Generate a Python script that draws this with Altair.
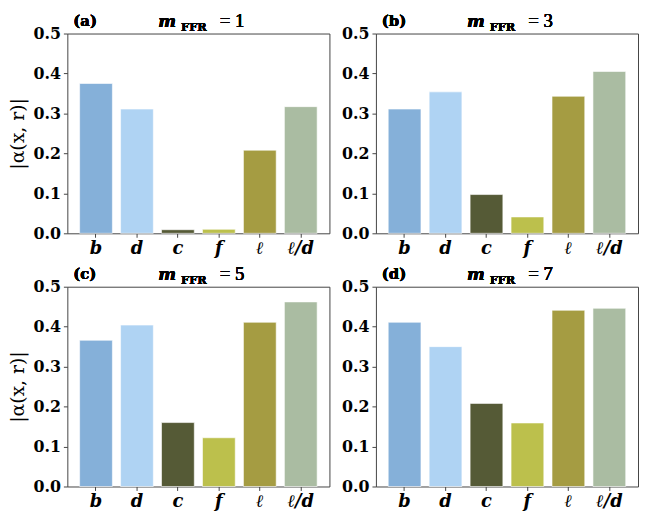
import altair as alt
import pandas as pd

categories = ["b", "d", "c", "f", "ℓ", "ℓ/d"]
colors = ["#85b0d9", "#afd3f3", "#555a36", "#bcc04c", "#a59c42", "#aabca2"]
panel_tags = ["(a)", "(b)", "(c)", "(d)"]
m_values = ["1", "3", "5", "7"]
vals_a = [0.375, 0.311, 0.009, 0.010, 0.208, 0.317]
vals_b = [0.311, 0.354, 0.097, 0.041, 0.343, 0.405]
vals_c = [0.366, 0.404, 0.160, 0.122, 0.411, 0.462]
vals_d = [0.411, 0.350, 0.208, 0.159, 0.441, 0.446]
all_vals = [vals_a, vals_b, vals_c, vals_d]
y_ticks = [0.0, 0.1, 0.2, 0.3, 0.4, 0.5]

SERIF = "DejaVu Serif"
SERIF2 = "Liberation Serif"
W, H = 265, 202


def panel(i, show_ytitle):
    df = pd.DataFrame({"cat": categories, "val": all_vals[i]})
    bars = alt.Chart(df).mark_bar(stroke="white", strokeWidth=0.6).encode(
        x=alt.X("cat:N", sort=categories,
                scale=alt.Scale(paddingInner=0.2, paddingOuter=0.3),
                axis=alt.Axis(title=None, labelAngle=0, labelFont=SERIF,
                              labelFontSize=18, labelFontWeight="bold",
                              labelFontStyle="italic", labelColor="black",
                              tickColor="#444", tickSize=4, domain=False,
                              labelPadding=2)),
        y=alt.Y("val:Q", scale=alt.Scale(domain=[0, 0.5], nice=False),
                axis=alt.Axis(values=y_ticks, format=".1f", grid=False,
                              title="|α(x, r)|" if show_ytitle else None,
                              titleFont=SERIF, titleFontSize=19,
                              titleFontWeight="normal", titleColor="black",
                              titlePadding=5,
                              labelFont=SERIF, labelFontSize=16,
                              labelFontWeight="bold", labelColor="black",
                              tickColor="#444", tickSize=4, domain=False,
                              labelPadding=3)),
        color=alt.Color("cat:N", sort=categories,
                        scale=alt.Scale(domain=categories, range=colors),
                        legend=None),
    )
    tag = alt.Chart(df).mark_text(font=SERIF, fontSize=15, fontWeight="bold",
                                  align="left", baseline="alphabetic",
                                  color="black").encode(
        x=alt.value(6), y=alt.value(-8), text=alt.value(panel_tags[i]))
    m = alt.Chart(df).mark_text(font=SERIF, fontSize=17, fontStyle="italic",
                                fontWeight="bold",
                                align="left", baseline="alphabetic",
                                color="black").encode(
        x=alt.value(92), y=alt.value(-7), text=alt.value("m"))
    sub = alt.Chart(df).mark_text(font=SERIF, fontSize=11.5, fontWeight="bold",
                                  align="left", baseline="alphabetic",
                                  color="black").encode(
        x=alt.value(115), y=alt.value(-3), text=alt.value("FFR"))
    eq = alt.Chart(df).mark_text(font=SERIF2, fontSize=19, fontWeight="normal",
                                 align="left", baseline="alphabetic",
                                 color="black").encode(
        x=alt.value(154), y=alt.value(-7), text=alt.value("= " + m_values[i]))
    return alt.layer(bars, tag, m, sub, eq).properties(width=W, height=H)


top = alt.hconcat(panel(0, True), panel(1, False), spacing=10)
bottom = alt.hconcat(panel(2, True), panel(3, False), spacing=10)
chart = alt.vconcat(top, bottom, spacing=6).properties(
    background="white",
    padding={"left": 0, "top": 0, "right": 0, "bottom": 0},
).configure_view(stroke="#444", strokeWidth=1)

chart.save("out.html", embed_options={"renderer": "svg", "actions": False})
